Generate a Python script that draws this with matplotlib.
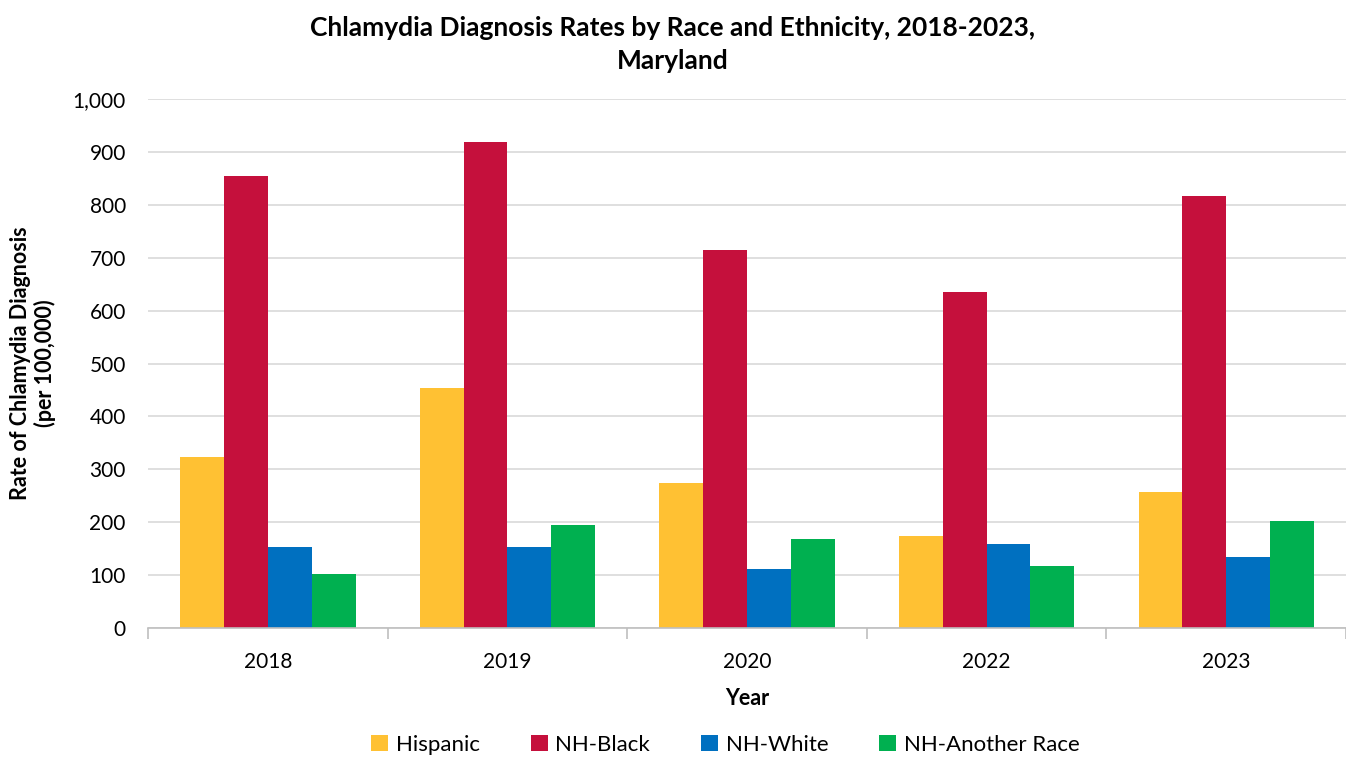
import numpy as np
import matplotlib
matplotlib.use("Agg")
import matplotlib.pyplot as plt
from matplotlib.ticker import FuncFormatter, FixedLocator

plt.rcParams['font.family'] = ['Lato', 'DejaVu Sans']

years = ['2018', '2019', '2020', '2022', '2023']
hispanic = [323, 454, 274, 174, 257]
nh_black = [854, 919, 715, 635, 817]
nh_white = [153, 153, 112, 159, 134]
nh_another = [102, 195, 168, 117, 202]

series = [('Hispanic', hispanic, '#FFC133'),
          ('NH-Black', nh_black, '#C5103C'),
          ('NH-White', nh_white, '#0070C0'),
          ('NH-Another Race', nh_another, '#00B050')]

fig = plt.figure(figsize=(13.46, 7.57), dpi=100)
ax = fig.add_axes([0.110, 0.1704, 0.890, 0.6988])

x = np.arange(len(years))
w = 0.183
for i, (name, vals, col) in enumerate(series):
    ax.bar(x + (i - 1.5) * w, vals, width=w, color=col, label=name, zorder=3)

ax.set_xlim(-0.5, len(years) - 0.5)
ax.set_ylim(0, 1000)
ax.set_yticks(np.arange(0, 1001, 100))
ax.yaxis.set_major_formatter(FuncFormatter(lambda v, p: f'{int(v):,}'))
ax.grid(axis='y', color='#D9D9D9', linewidth=1.2, zorder=0)

ax.set_xticks(x)
ax.set_xticklabels(years)
ax.xaxis.set_minor_locator(FixedLocator(np.arange(-0.5, len(years), 1.0)))
ax.tick_params(axis='x', which='major', length=0, pad=17, labelsize=15)
ax.tick_params(axis='x', which='minor', length=8, color='#BFBFBF', width=1.2)
ax.tick_params(axis='y', length=0, pad=16, labelsize=15)

for s in ['top', 'right', 'left']:
    ax.spines[s].set_visible(False)
ax.spines['bottom'].set_color('#BFBFBF')
ax.spines['bottom'].set_linewidth(1.2)
ax.spines['bottom'].set_zorder(4)

ax.set_xlabel('Year', fontsize=15.5, fontweight='bold', labelpad=12)
ax.set_ylabel('Rate of Chlamydia Diagnosis\n(per 100,000)', fontsize=15.5,
              fontweight='bold', labelpad=12, linespacing=1.15)

fig.text(0.5, 1 - 44.5 / 757, 'Chlamydia Diagnosis Rates by Race and Ethnicity, 2018-2023,\nMaryland',
         ha='center', va='center', fontsize=19, fontweight='bold', linespacing=1.42)

fig.legend(loc='center', bbox_to_anchor=(0.539, 1 - 745 / 757), ncol=4, frameon=False,
           fontsize=16, handlelength=0.75, handleheight=0.75, columnspacing=2.3,
           handletextpad=0.35)

fig.savefig('out.png', dpi=100)
